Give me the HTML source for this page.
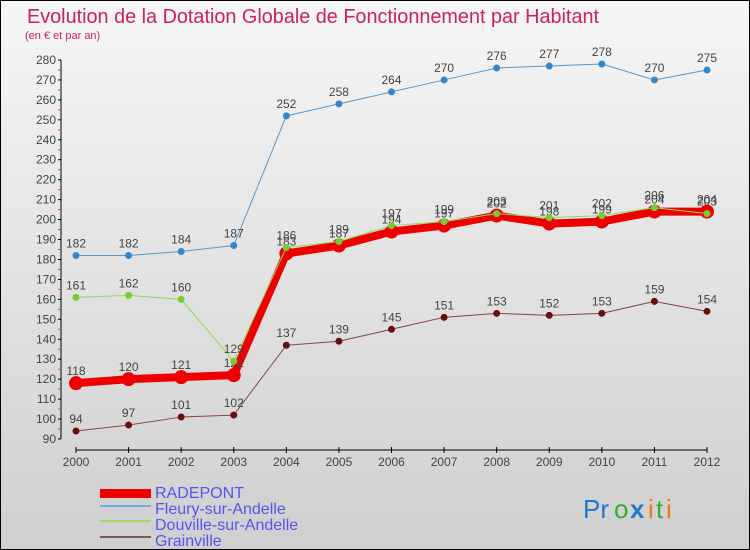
<!DOCTYPE html>
<html><head><meta charset="utf-8"><style>
body{margin:0;width:750px;height:550px;overflow:hidden;font-family:"Liberation Sans",sans-serif}
#wrap{position:absolute;left:0;top:0;width:748px;height:548px;border:1px solid #000;background:linear-gradient(#f6f6f6,#cfcfcf)}
</style></head><body>
<div id="wrap">
<svg id="c" width="750" height="550" style="position:absolute;left:-1px;top:-1px">
<text x="27" y="23" font-size="20" fill="#cc2255" font-family="Liberation Sans" textLength="572" lengthAdjust="spacingAndGlyphs">Evolution de la Dotation Globale de Fonctionnement par Habitant</text>
<text x="25" y="39" font-size="11" fill="#cc2255">(en € et par an)</text>
<g id="axes"></g><g id="series"></g>
<g font-size="16" fill="#5555ee">
<rect x="100" y="489" width="51" height="9" fill="#ee0000"/>
<text x="155" y="498">RADEPONT</text>
<rect x="100" y="505" width="51" height="2" fill="#77aadd"/>
<text x="155" y="514">Fleury-sur-Andelle</text>
<rect x="100" y="520" width="51" height="2" fill="#99dd66"/>
<text x="155" y="530">Douville-sur-Andelle</text>
<rect x="100" y="536" width="51" height="2" fill="#885555"/>
<text x="155" y="546">Grainville</text>
</g>
<g font-size="26" font-family="Liberation Sans">
<text x="583" y="518" fill="#2277cc">Pr</text><text x="614" y="518" fill="#33aa33">o</text><text x="630" y="518" fill="#2277cc" font-weight="bold">x</text><text x="648" y="518" fill="#ee7711">i</text><text x="656" y="518" fill="#33aa33">t</text><text x="666" y="518" fill="#ee7711">i</text>
</g>
</svg></div>
<script>
const years=[2000,2001,2002,2003,2004,2005,2006,2007,2008,2009,2010,2011,2012];
const yTicks=[90,100,110,120,130,140,150,160,170,180,190,200,210,220,230,240,250,260,270,280];
const radepont=[118,120,121,122,183,187,194,197,202,198,199,204,204];
const fleury=[182,182,184,187,252,258,264,270,276,277,278,270,275];
const douville=[161,162,160,129,186,189,197,199,203,201,202,206,203];
const grainville=[94,97,101,102,137,139,145,151,153,152,153,159,154];
const NS="http://www.w3.org/2000/svg";
const xs=i=>76+i*(707-76)/12;
const ys=v=>439-(v-90)*(439-60)/190;
function mk(t,a,p){const e=document.createElementNS(NS,t);for(const k in a)e.setAttribute(k,a[k]);p.appendChild(e);return e;}
const ax=document.getElementById('axes');
const yl=mk('line',{x1:61,y1:60,x2:61,y2:439,stroke:'#000'},ax);


const xl=mk('line',{x1:76,y1:450,x2:707,y2:450,stroke:'#000'},ax);


yTicks.forEach(v=>{mk('line',{x1:58,x2:61,y1:ys(v),y2:ys(v),stroke:'#000'},ax);
mk('line',{x1:58,x2:61,y1:ys(v+5),y2:ys(v+5),stroke:v<280?'#e33':'none'},ax);
const t=mk('text',{x:56,y:ys(v)+4,'text-anchor':'end','font-size':12,fill:'#444'},ax);t.textContent=v;

});
years.forEach((y,i)=>{mk('line',{x1:xs(i),x2:xs(i),y1:447,y2:453,stroke:'#000'},ax);
const t=mk('text',{x:xs(i),y:466,'text-anchor':'middle','font-size':12,fill:'#444'},ax);t.textContent=y;

});
const sg=document.getElementById('series');
function draw(name,vals,color,w,r,dot,lab){
const g=mk('g',{},sg);


const pl=mk('polyline',{points:vals.map((v,i)=>xs(i)+','+ys(v)).join(' '),fill:'none',stroke:color,'stroke-width':w,'stroke-linejoin':'round'},g);


vals.forEach((v,i)=>{const c=mk('circle',{cx:xs(i),cy:ys(v),r:r,fill:dot},g);


if(lab){const t=mk('text',{x:xs(i),y:ys(v)-8,'text-anchor':'middle','font-size':12,fill:'#444'},g);t.textContent=v;

}});}
draw('grainville',grainville,'#884444',1,3.5,'#661111',true);
draw('fleury',fleury,'#5599cc',1,3.5,'#3388cc',true);
draw('radepont',radepont,'#ee0000',8,7,'#ee0000',true);
draw('douville',douville,'#88dd55',1,3.5,'#77cc33',true);
</script>
</body></html>
